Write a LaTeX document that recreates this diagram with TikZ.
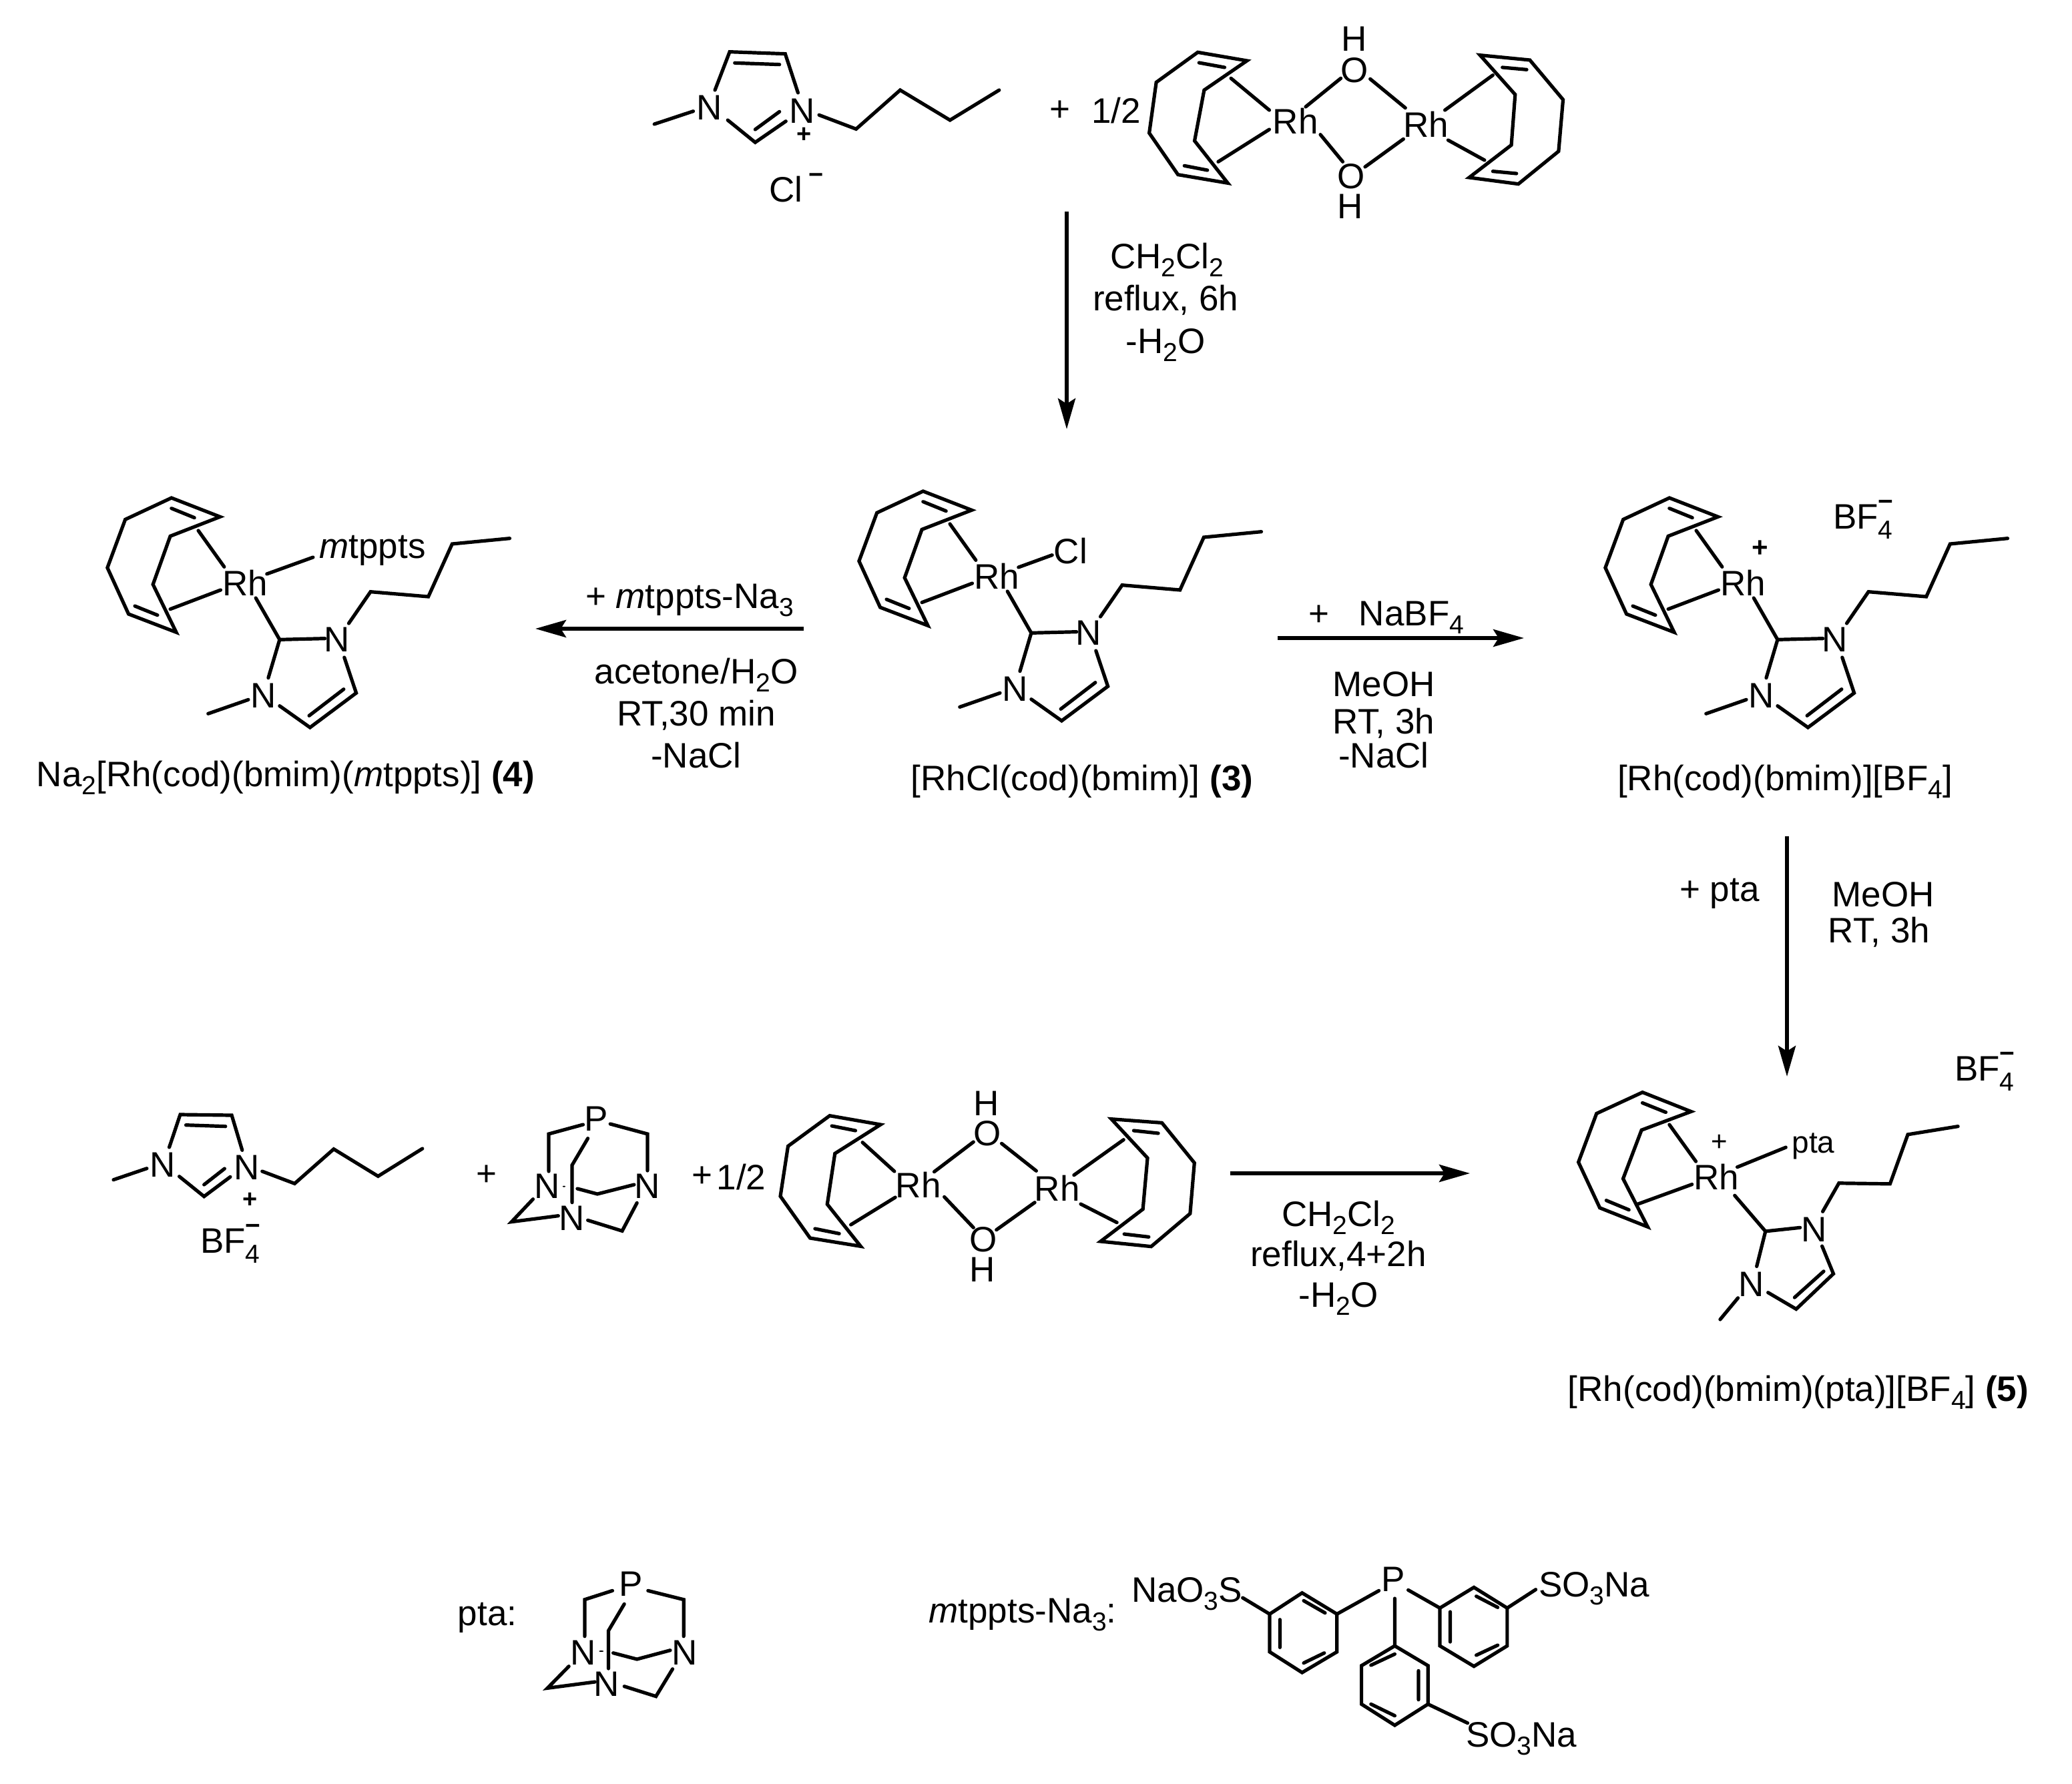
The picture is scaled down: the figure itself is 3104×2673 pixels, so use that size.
\documentclass[tikz,border=0pt]{standalone}
\usepackage{fontspec}
\setmainfont{Liberation Sans}
\usetikzlibrary{arrows.meta}
\newcommand{\fsmain}{\fontsize{53}{60}\selectfont}
\newcommand{\lowsub}[1]{\raisebox{-0.24em}{\fontsize{39}{40}\selectfont #1}}
\newcommand{\bfourminus}{BF\rlap{\raisebox{0.52em}{\fontsize{39}{40}\selectfont\bfseries −}}\raisebox{-0.3em}{\fontsize{39}{40}\selectfont 4}}
\tikzset{
  x=1pt,y=-1pt,
  bond/.style={line width=5.2pt,line cap=round,line join=miter,black},
  atom/.style={font=\fsmain,inner sep=0pt},
  caption/.style={font=\fsmain,inner sep=0pt,anchor=base},
  smallsign/.style={font=\fontsize{38}{40}\selectfont\bfseries,inner sep=0pt},
  rxn/.style={line width=5.5pt,-{Stealth[length=46pt,width=26pt,inset=8pt]}}
}
% bmim / cod rhodium core, local coordinates of a 2.24 x 3 grid
\newcommand{\rhcore}[3]{%
\begin{scope}[shift={(#1,#2)},xscale=1/2.24,yscale=1/3]
  \draw[bond] (483,193)--(320,108)--(165,205)--(105,422)--(176,630)--(336,712)--(258,497)--(316,280)--cycle;
  \draw[bond] (320,155)--(397,197) (197,594)--(273,635);
  \node[atom] (#3Rh) at (568,490) {Rh};
  \node[atom] (#3Na) at (875,745) {N};
  \node[atom] (#3Nb) at (628,998) {N};
  \draw[bond] (410,255)--(497,418) (485,522)--(316,608);
  \draw[bond] (603,558)--(683,745)--(835,740);
  \draw[bond] (683,745)--(645,917);
  \draw[bond] (915,672)--(988,530)--(1182,552)--(1262,315)--(1455,290);
  \draw[bond] (578,1015)--(443,1078);
  \draw[bond] (683,1043)--(785,1140)--(940,985)--(900,825);
  \draw[bond] (782,1087)--(898,968);
\end{scope}}
\begin{document}
\begin{tikzpicture}
\useasboundingbox (0,0) rectangle (3104,2673);
% ---------- top imidazolium + dimer
\begin{scope}[shift={(940,40)},xscale=1/1.0453,yscale=1/3]
  \node[atom] (tNa) at (128,365) {N};
  \node[atom] (tNb) at (273,378) {N};
  \node[smallsign] (tPlus) at (277,488) {+};
  \draw[bond] (137,285)--(160,113)--(247,122)--(267,297);
  \draw[bond] (168,163)--(238,170);
  \draw[bond] (103,380)--(42,438);
  \draw[bond] (157,420)--(200,520)--(248,425);
  \draw[bond] (200,462)--(238,382);
  \draw[bond] (300,397)--(358,460)--(427,285)--(505,420)--(582,285);
  \node[atom] (tCl) at (248,730) {Cl};
  \node[smallsign] (tClm) at (295,680) {−};
  \node[atom] (tp) at (677,380) {+};
  \node[atom] (thalf) at (765,378) {1/2};
  \draw[bond] (970,153)--(893,115)--(828,250)--(817,478)--(862,665)--(940,703)--(888,513)--(903,285)--cycle;
  \draw[bond] (895,162)--(935,183) (872,625)--(908,645);
  \node[atom] (tRa) at (1046,425) {Rh};
  \node[atom] (tRb) at (1250,440) {Rh};
  \node[atom] (tOa) at (1138,197) {O};
  \node[atom] (tOb) at (1133,672) {O};
  \node[atom] (tHa) at (1138,55) {H};
  \node[atom] (tHb) at (1132,808) {H};
  \draw[bond] (945,232)--(1005,375) (1005,462)--(925,607);
  \draw[bond] (1062,360)--(1117,232) (1163,235)--(1218,365);
  \draw[bond] (1085,485)--(1120,607) (1155,630)--(1215,505);
  \draw[bond] (1335,128)--(1413,150)--(1465,328)--(1458,560)--(1395,707)--(1318,678)--(1384,532)--(1390,305)--cycle;
  \draw[bond] (1370,183)--(1408,193) (1355,650)--(1392,660);
  \draw[bond] (1355,218)--(1280,375) (1285,510)--(1342,600);
\end{scope}
% ---------- middle row
\rhcore{1240}{700}{c}
\begin{scope}[shift={(1240,700)},xscale=1/2.24,yscale=1/3]
  \draw[bond] (640,450)--(753,395);
  \node[atom] (cCl) at (815,378) {Cl};
\end{scope}
\rhcore{114}{710}{l}
\begin{scope}[shift={(114,710)},xscale=1/2.24,yscale=1/3]
  \draw[bond] (640,450)--(795,375);
\end{scope}
\node[caption] (lmt) at (558,836) {\textit{m}tppts};
\rhcore{2358}{710}{r}
\node[smallsign,font=\fontsize{42}{44}\selectfont\bfseries] (rPlus) at (2637,822) {+};
\node[atom,anchor=base west] (rBF) at (2746,792) {\bfourminus};
% ---------- captions
\node[caption] (cap4) at (428,1178) {Na\lowsub{2}[Rh(cod)(bmim)(\textit{m}tppts)] \textbf{(4)}};
\node[caption] (cap3) at (1621,1184) {[RhCl(cod)(bmim)] \textbf{(3)}};
\node[caption] (capr) at (2674,1184) {[Rh(cod)(bmim)][BF\lowsub{4}]};
\node[caption] (cap5) at (2694,2099) {[Rh(cod)(bmim)(pta)][BF\lowsub{4}] \textbf{(5)}};
% ---------- bottom-right compound 5
\begin{scope}[shift={(2320,1560)},xscale=1/2.063,yscale=1/2.703]
  \draw[bond] (440,285)--(290,207)--(148,293)--(92,490)--(158,675)--(306,752)--(230,557)--(287,360)--cycle;
  \draw[bond] (290,250)--(362,288) (178,645)--(248,683);
  \node[atom] (fRh) at (518,550) {Rh};
  \node[atom] (fNa) at (820,762) {N};
  \node[atom] (fNb) at (627,985) {N};
  \draw[bond] (373,338)--(455,487) (443,580)--(275,660);
  \draw[bond] (583,510)--(733,430);
  \node[atom,font=\fontsize{46}{50}\selectfont] (fpta) at (818,425) {pta};
  \node[smallsign,font=\fontsize{42}{44}\selectfont] (fPlus) at (528,413) {+};
  \draw[bond] (575,625)--(670,770)--(777,755);
  \draw[bond] (670,770)--(643,912);
  \draw[bond] (847,690)--(897,575)--(1055,578)--(1110,378)--(1265,345);
  \draw[bond] (585,1040)--(530,1127);
  \draw[bond] (678,1018)--(765,1085)--(880,942)--(845,830);
  \draw[bond] (760,1038)--(850,932);
\end{scope}
\node[atom,anchor=base west] (fBF) at (2928,1619) {\bfourminus};
% ---------- bottom imidazolium + pta
\begin{scope}[shift={(120,1600)},xscale=1/1.4,yscale=1/3]
  \node[atom] (bNa) at (173,437) {N};
  \node[atom] (bNb) at (350,447) {N};
  \draw[bond] (187,357)--(210,210)--(318,213)--(340,370);
  \draw[bond] (222,257)--(305,263);
  \draw[bond] (140,452)--(70,503);
  \draw[bond] (208,488)--(260,578)--(315,490);
  \draw[bond] (260,525)--(303,453);
  \draw[bond] (382,465)--(450,520)--(532,365)--(625,487)--(718,363);
  \node[smallsign] (bPlus) at (357,595) {+};
  \node[atom] (bp) at (852,485) {+};
  \node[atom] (pP) at (1083,230) {P};
  \node[atom] (pNa) at (980,533) {N};
  \node[atom] (pNb) at (1190,533) {N};
  \node[atom] (pNc) at (1032,675) {N};
  \draw[bond] (1055,255)--(983,297)--(983,465);
  \draw[bond] (1112,252)--(1190,297)--(1190,462);
  \draw[bond] (1065,317)--(1032,437)--(1032,605);
  \fill (1015,533) circle[radius=3pt];
  \draw[bond] (1043,543)--(1085,567)--(1162,525);
  \draw[bond] (950,590)--(905,692)--(1003,665);
  \draw[bond] (1168,607)--(1137,733)--(1065,685);
  \node[atom] (bq) at (1305,490) {+};
  \node[atom] (bhalf) at (1387,490) {1/2};
\end{scope}
\node[atom,anchor=base west] (bBF) at (300,1877) {\bfourminus};
% ---------- bottom dimer
\begin{scope}[shift={(1130,1610)},xscale=1/2.178,yscale=1/3]
  \draw[bond] (412,225)--(246,185)--(110,322)--(85,547)--(182,735)--(347,772)--(238,583)--(263,355)--cycle;
  \draw[bond] (253,231)--(330,252) (198,693)--(277,715);
  \node[atom] (dRa) at (535,495) {Rh};
  \node[atom] (dRb) at (988,512) {Rh};
  \node[atom] (dOa) at (760,265) {O};
  \node[atom] (dOb) at (748,743) {O};
  \node[atom] (dHa) at (758,130) {H};
  \node[atom] (dHb) at (745,878) {H};
  \draw[bond] (353,305)--(457,435) (460,552)--(315,675);
  \draw[bond] (587,437)--(715,303) (807,310)--(920,433);
  \draw[bond] (620,550)--(715,688) (790,698)--(915,575);
  \draw[bond] (1165,200)--(1330,217)--(1436,397)--(1422,625)--(1295,773)--(1130,750)--(1268,605)--(1283,375)--cycle;
  \draw[bond] (1238,252)--(1318,264) (1207,717)--(1287,730);
  \draw[bond] (1205,293)--(1043,452) (1065,582)--(1183,665);
\end{scope}
% ---------- legend
\node[caption] (ptalab) at (730,2435) {pta:};
\begin{scope}[shift={(660,2320)},xscale=1/0.843,yscale=1/3]
  \node[atom] (qP) at (240,160) {P};
  \node[atom] (qNa) at (180,470) {N};
  \node[atom] (qNb) at (308,470) {N};
  \node[atom] (qNc) at (210,610) {N};
  \draw[bond] (217,190)--(182,230)--(182,395);
  \draw[bond] (262,190)--(307,230)--(307,395);
  \draw[bond] (232,250)--(212,370)--(212,540);
  \fill (203,462) circle[radius=3pt];
  \draw[bond] (218,470)--(248,498)--(290,458);
  \draw[bond] (162,530)--(135,628)--(195,600);
  \draw[bond] (293,542)--(272,665)--(232,620);
  % rings
  \node[atom] (mP) at (1203,140) {P};
  \draw[bond] (1088,200)--(1132,295)--(1132,465)--(1088,558)--(1047,465)--(1047,295)--cycle;
  \draw[bond] (1090,235)--(1117,290) (1116,470)--(1090,515) (1060,320)--(1060,445);
  \draw[bond] (1013,222)--(1047,295) (1132,295)--(1185,190);
  \draw[bond] (1305,175)--(1347,268)--(1347,438)--(1305,530)--(1262,438)--(1262,268)--cycle;
  \draw[bond] (1308,215)--(1335,265) (1335,435)--(1308,480) (1275,285)--(1275,420);
  \draw[bond] (1222,187)--(1262,268) (1347,268)--(1383,185);
  \draw[bond] (1205,438)--(1247,527)--(1247,700)--(1205,795)--(1163,700)--(1163,527)--cycle;
  \draw[bond] (1205,475)--(1175,525) (1235,550)--(1235,680) (1175,700)--(1205,752);
  \draw[bond] (1205,225)--(1205,438) (1247,700)--(1297,785);
\end{scope}
\node[caption] (mtlab) at (1532,2431) {\textit{m}tppts-Na\lowsub{3}:};
\node[caption] (naos) at (1778,2400) {NaO\lowsub{3}S};
\node[caption] (sona) at (2388,2392) {SO\lowsub{3}Na};
\node[caption] (sonb) at (2279,2617) {SO\lowsub{3}Na};
% ---------- reaction arrows
\coordinate (a1s) at (1598,317); \coordinate (a1e) at (1598,643);
\coordinate (a2s) at (1204,942); \coordinate (a2e) at (802,942);
\coordinate (a3s) at (1914,956); \coordinate (a3e) at (2283,956);
\coordinate (a4s) at (2677,1253); \coordinate (a4e) at (2677,1613);
\coordinate (a5s) at (1843,1758); \coordinate (a5e) at (2202,1758);
\draw[rxn] (a1s)--(a1e);
\draw[rxn] (a2s)--(a2e);
\draw[rxn] (a3s)--(a3e);
\draw[rxn] (a4s)--(a4e);
\draw[rxn] (a5s)--(a5e);
% ---------- reaction conditions
\node[caption] (t1a) at (1748,402) {CH\lowsub{2}Cl\lowsub{2}};
\node[caption] (t1b) at (1746,465) {reflux, 6h};
\node[caption] (t1c) at (1746,529) {-H\lowsub{2}O};
\node[caption] (t2a) at (1033,911) {+ \textit{m}tppts-Na\lowsub{3}};
\node[caption] (t2b) at (1043,1024) {acetone/H\lowsub{2}O};
\node[caption] (t2c) at (1043,1087) {RT,30 min};
\node[caption] (t2d) at (1043,1150) {-NaCl};
\node[caption] (t3a) at (2077,937) {+ \ \ NaBF\lowsub{4}};
\node[caption] (t3b) at (2073,1043) {MeOH};
\node[caption] (t3c) at (2073,1099) {RT, 3h};
\node[caption] (t3d) at (2073,1150) {-NaCl};
\node[caption] (t4a) at (2576,1350) {+ pta};
\node[caption] (t4b) at (2821,1358) {MeOH};
\node[caption] (t4c) at (2815,1412) {RT, 3h};
\node[caption] (t5a) at (2005,1837) {CH\lowsub{2}Cl\lowsub{2}};
\node[caption] (t5b) at (2005,1897) {reflux,4+2h};
\node[caption] (t5c) at (2005,1958) {-H\lowsub{2}O};
\end{tikzpicture}
\end{document}
